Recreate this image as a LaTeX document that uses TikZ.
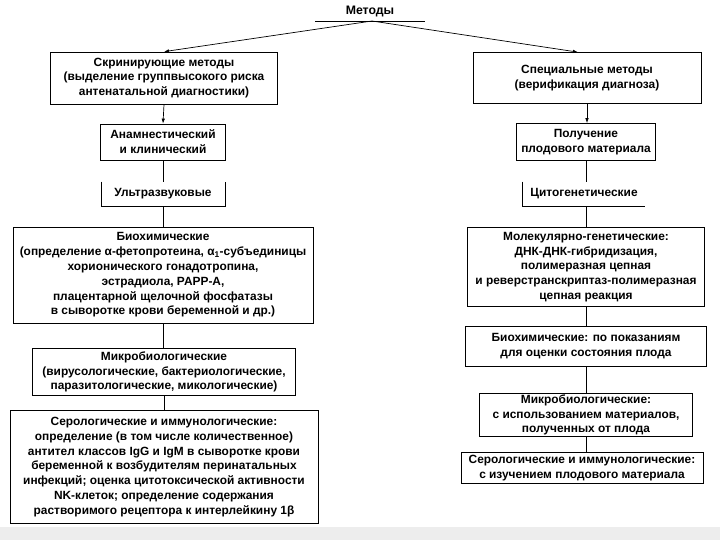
\documentclass[tikz,border=0pt]{standalone}
\usepackage{fontspec}
\setmainfont{Liberation Sans}
\usetikzlibrary{arrows.meta}
\tikzset{
  box/.style={draw, line width=0.7pt, align=center, inner sep=1pt,
    font=\fontsize{11.9}{14.8}\selectfont\bfseries},
  link/.style={line width=0.7pt},
  arr/.style={line width=0.7pt, -{Latex[length=5pt,width=3.5pt]}}
}
\begin{document}
\begin{tikzpicture}[x=1pt,y=-1pt]
\useasboundingbox (0,0) rectangle (720,540);
\fill[black!7] (0,527) rectangle (720,540);
\node[font=\fontsize{12.3}{14}\selectfont\bfseries] (title) at (370,11) {Методы};
\draw[link] (315,21) -- (425,21);
\coordinate (top) at (372,21);
\node[box, minimum width=227, minimum height=52] (screen) at (164,78)
  {Скринирующие методы\\(выделение группвысокого риска\\антенатальной диагностики)};
\node[box, minimum width=228, minimum height=51] (special) at (587,78)
  {Специальные методы\\(верификация диагноза)};
\node[box, minimum width=125, minimum height=36] (anamn) at (163,142)
  {Анамнестический\\и  клинический};
\node[box, minimum width=139, minimum height=37] (sample) at (586,142)
  {Получение\\плодового материала};
\node[box, draw=none, minimum width=123, minimum height=24] (ultra) at (163,194) {Ультразвуковые};
\draw[link] (ultra.north west) -- (ultra.south west) -- (ultra.south east) -- (ultra.north east);
\node[box, draw=none, minimum width=122, minimum height=24] (cyto) at (584,194) {Цитогенетические};
\draw[link] (cyto.north west) -- (cyto.south west) -- (cyto.south east);
\node[box, minimum width=300, minimum height=96] (biochemL) at (163,275)
  {Биохимические\\(определение α-фетопротеина, α\textsubscript{1}-субъединицы\\хорионического гонадотропина,\\эстрадиола, PAPP-A,\\плацентарной щелочной фосфатазы\\в сыворотке крови  беременной и  др.)};
\node[box, minimum width=237, minimum height=79] (molgen) at (586,267)
  {Молекулярно-генетические:\\ДНК-ДНК-гибридизация,\\полимеразная цепная\\и  реверстранскриптаз-полимеразная\\цепная реакция};
\node[box, minimum width=241, minimum height=40] (biochemR) at (586,346)
  {Биохимические: по показаниям\\для оценки  состояния плода};
\node[box, minimum width=263, minimum height=47] (microL) at (164,372)
  {Микробиологические\\(вирусологические, бактериологические,\\паразитологические, микологические)};
\node[box, minimum width=213, minimum height=40] (microR) at (586,415)
  {Микробиологические:\\с использованием материалов,\\полученных от плода};
\node[box, minimum width=308, minimum height=113] (seroL) at (164,467)
  {Серологические и  иммунологические:\\определение (в том числе количественное)\\антител классов IgG и  IgM в сыворотке крови\\беременной к возбудителям перинатальных\\инфекций; оценка цитотоксической активности\\NK-клеток; определение содержания\\растворимого рецептора к интерлейкину 1β};
\node[box, minimum width=242, minimum height=31] (seroR) at (582,468)
  {Серологические и  иммунологические:\\с  изучением плодового материала};
\draw[arr] (top) -- (screen.north);
\draw[arr] (top) -- ([xshift=-9pt]special.north);
\draw[arr] (screen.south) -- (anamn.north);
\draw[arr] (special.south) -- (special.south |- sample.north);
\draw[link] (anamn.south) -- (ultra.north);
\draw[link] (ultra.south) -- (biochemL.north);
\draw[link] (biochemL.south) -- (biochemL.south |- microL.north);
\draw[link] (microL.south) -- (seroL.north);
\draw[link] (sample.south) -- (sample.south |- cyto.north);
\draw[link] (sample.south |- cyto.south) -- (molgen.north);
\draw[link] (molgen.south) -- (biochemR.north);
\draw[link] (biochemR.south) -- (microR.north);
\draw[link] (microR.south) -- (microR.south |- seroR.north);
\end{tikzpicture}
\end{document}
